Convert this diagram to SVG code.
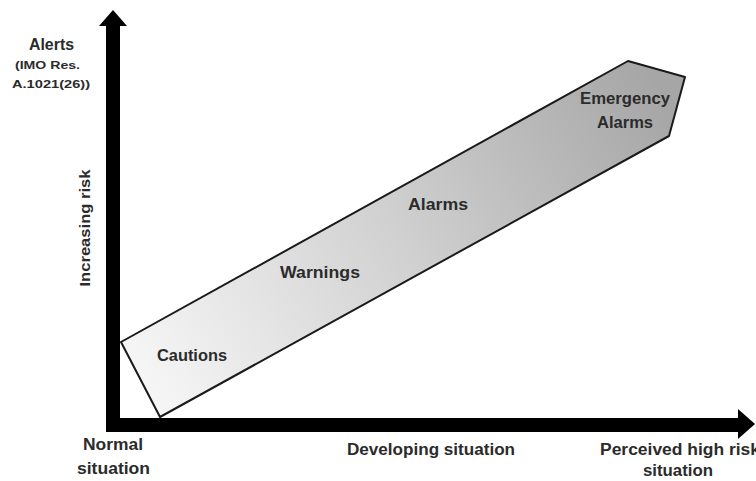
<svg xmlns="http://www.w3.org/2000/svg" width="756" height="481" viewBox="0 0 756 481">
<defs>
<linearGradient id="bandGrad" gradientUnits="userSpaceOnUse" x1="140" y1="380" x2="660" y2="90">
<stop offset="0" stop-color="#f6f6f6"/>
<stop offset="0.5" stop-color="#d0d0d0"/>
<stop offset="1" stop-color="#a6a6a6"/>
</linearGradient>
<style>
.lbl{font-family:"Liberation Sans",Arial,sans-serif;font-weight:bold;fill:#2b2b2b;text-anchor:middle}
.axis{fill:#000}
</style>
</defs>
<rect width="756" height="481" fill="#fff"/>
<g id="band">
<polygon points="121,342 628,61 685,77 669,136 160,417" fill="url(#bandGrad)" stroke="#1a1a1a" stroke-width="2" stroke-linejoin="round"/>
</g>
<g id="connectors">
<g id="y-axis">
<rect class="axis" x="106" y="24" width="14" height="408"/>
<polygon class="axis" points="113,10 127,26 99,26"/>
</g>
<g id="x-axis">
<rect class="axis" x="106" y="418" width="634" height="14"/>
<polygon class="axis" points="755,424 738,409 738,439"/>
</g>
</g>
<g id="node-alerts">
<text class="lbl" x="51.5" y="50" font-size="16" textLength="45" lengthAdjust="spacingAndGlyphs">Alerts</text>
<text class="lbl" x="47.5" y="68.5" font-size="10.5" textLength="65" lengthAdjust="spacingAndGlyphs">(IMO Res.</text>
<text class="lbl" x="51" y="87.5" font-size="10.5" textLength="78" lengthAdjust="spacingAndGlyphs">A.1021(26))</text>
</g>
<g id="node-increasing-risk">
<text class="lbl" font-size="15" textLength="117" lengthAdjust="spacingAndGlyphs" transform="translate(90,228) rotate(-90)">Increasing risk</text>
</g>
<g id="node-cautions"><text class="lbl" x="192" y="361" font-size="16" textLength="70" lengthAdjust="spacingAndGlyphs">Cautions</text></g>
<g id="node-warnings"><text class="lbl" x="320" y="278" font-size="16" textLength="80" lengthAdjust="spacingAndGlyphs">Warnings</text></g>
<g id="node-alarms"><text class="lbl" x="438" y="210" font-size="16" textLength="60" lengthAdjust="spacingAndGlyphs">Alarms</text></g>
<g id="node-emergency">
<text class="lbl" x="625" y="104" font-size="16" textLength="90" lengthAdjust="spacingAndGlyphs">Emergency</text>
<text class="lbl" x="625" y="128" font-size="16" textLength="56" lengthAdjust="spacingAndGlyphs">Alarms</text>
</g>
<g id="node-normal">
<text class="lbl" x="113" y="450" font-size="16" textLength="60" lengthAdjust="spacingAndGlyphs">Normal</text>
<text class="lbl" x="113.5" y="474" font-size="16" textLength="73" lengthAdjust="spacingAndGlyphs">situation</text>
</g>
<g id="node-developing"><text class="lbl" x="431" y="455" font-size="16" textLength="168" lengthAdjust="spacingAndGlyphs">Developing situation</text></g>
<g id="node-perceived">
<text class="lbl" x="680" y="455" font-size="16" textLength="160" lengthAdjust="spacingAndGlyphs">Perceived high risk</text>
<text class="lbl" x="678" y="476" font-size="16" textLength="70" lengthAdjust="spacingAndGlyphs">situation</text>
</g>
</svg>
